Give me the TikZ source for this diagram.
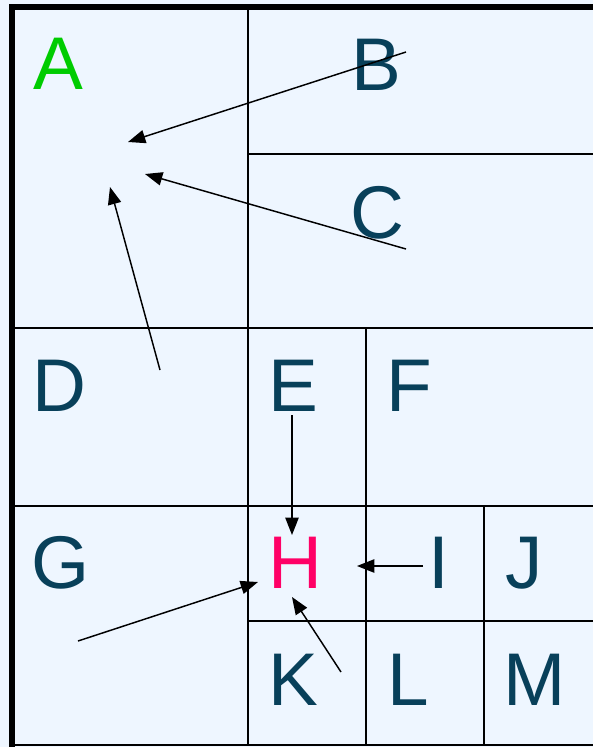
\documentclass[tikz,border=0pt]{standalone}
\usepackage{fontspec}
\setmainfont{Liberation Sans}
\usetikzlibrary{arrows.meta}
\definecolor{pagebg}{RGB}{238,246,255}
\definecolor{lettercol}{RGB}{8,64,90}
\definecolor{acol}{RGB}{0,204,0}
\definecolor{hcol}{RGB}{255,0,102}
\tikzset{
  letter/.style={anchor=base west, inner sep=0pt, text=lettercol,
    font=\fontsize{56}{60}\selectfont},
  grid/.style={line width=1.5pt},
  link/.style={-{Triangle[length=13pt,width=10pt]}, line width=1.1pt},
}

\begin{document}
\begin{tikzpicture}[x=0.75pt, y=-0.75pt]
  \fill[pagebg] (0,0) rectangle (593,747);
  \useasboundingbox (0,0) rectangle (593,747);
  % 外枠
  \draw[line width=3.8pt] (12,747) -- (12,7) -- (593,7);
  \draw[grid] (12,745) -- (593,745);
  % 区切り線
  \draw[grid] (248,7) -- (248,745);
  \draw[grid] (248,154) -- (593,154);
  \draw[grid] (12,328) -- (593,328);
  \draw[grid] (366,328) -- (366,745);
  \draw[grid] (12,506) -- (593,506);
  \draw[grid] (484,506) -- (484,745);
  \draw[grid] (248,621) -- (593,621);
  % 文字
  \node[letter, text=acol] (A) at (33,89) {A};
  \foreach \n/\x/\y in {B/351/90, C/350/238, D/32/411, E/268/411, F/386/411,
      G/31/588, I/428/588, J/505/588, K/268/705, L/387/705, M/503/705} {
    \node[letter] (\n) at (\x,\y) {\n};
  }
  \node[letter, text=hcol] (H) at (268,588) {H};
  % 矢印の端点
  \coordinate (bs) at (406,52);
  \coordinate (be) at (128,142);
  \coordinate (cs) at (406,249);
  \coordinate (ce) at (145,174);
  \coordinate (ds) at (160,370);
  \coordinate (de) at (110,187);
  \coordinate (es) at (292,415);
  \coordinate (ee) at (292,535);
  \coordinate (is) at (423,566);
  \coordinate (ie) at (357,566);
  \coordinate (gs) at (78,641);
  \coordinate (ge) at (258,582);
  \coordinate (ks) at (341,672);
  \coordinate (ke) at (292,597);
  \foreach \s/\e in {bs/be, cs/ce, ds/de, es/ee, is/ie, gs/ge, ks/ke} {
    \draw[link] (\s) -- (\e);
  }
\end{tikzpicture}
\end{document}
